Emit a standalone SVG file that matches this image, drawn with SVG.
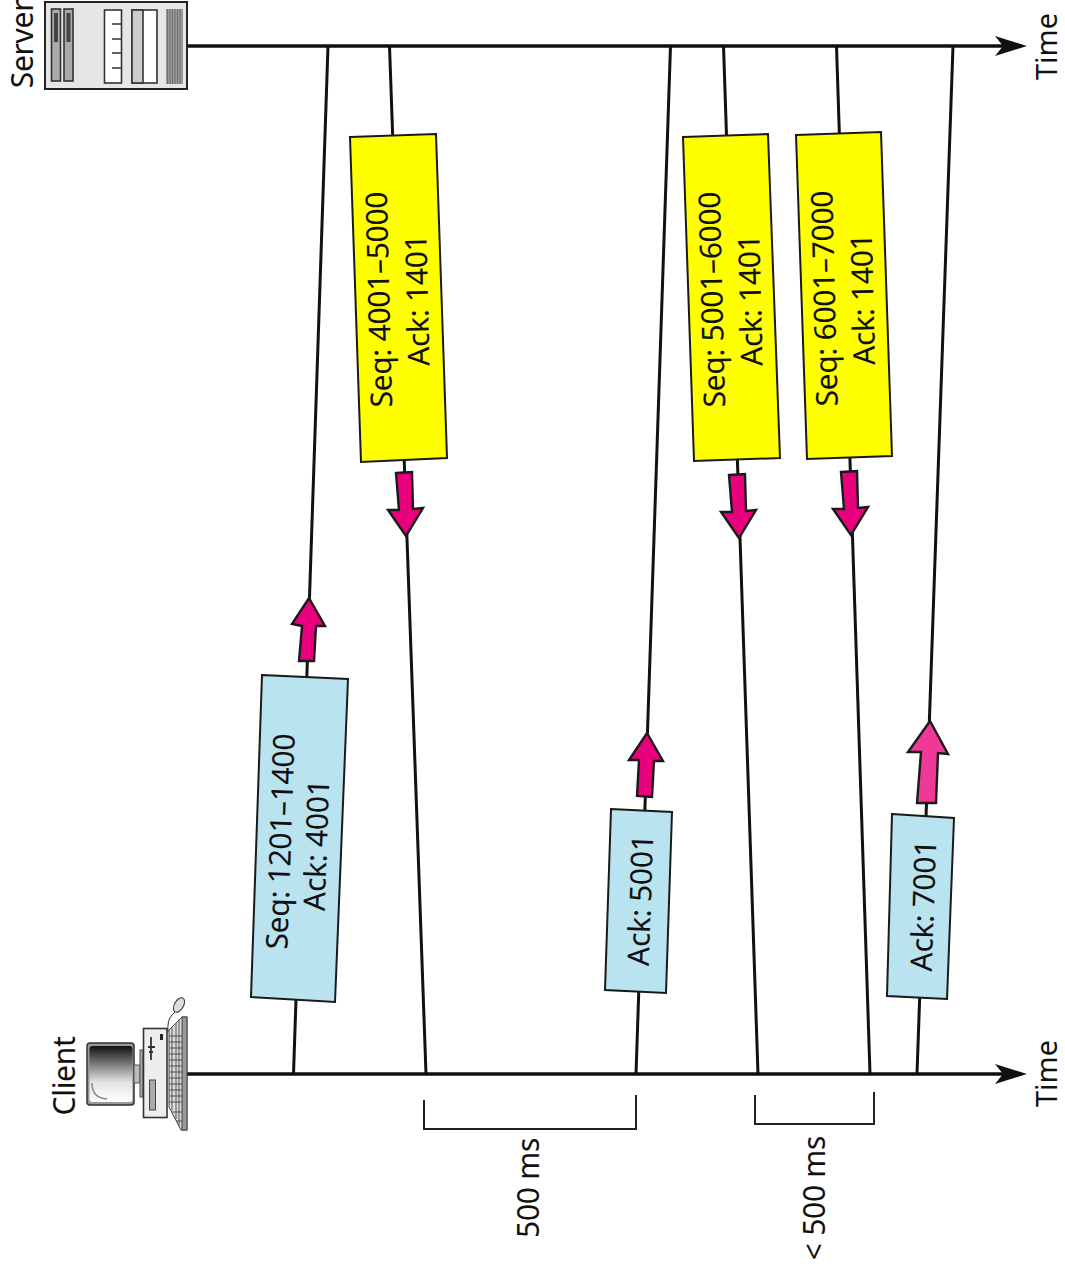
<svg xmlns="http://www.w3.org/2000/svg" width="1065" height="1275" viewBox="0 0 1065 1275">
<style>
text{font-family:"Noto Sans","Open Sans","Liberation Sans",sans-serif;font-size:30px;letter-spacing:-0.3px;fill:#111;text-anchor:middle}
.tm{font-size:29px;letter-spacing:0}
.msg{fill:none;stroke:#111;stroke-width:3}
.axis{fill:none;stroke:#111;stroke-width:3.4}
.tip{fill:#111;stroke:none}
.y{fill:#ffff00;stroke:#1a1a1a;stroke-width:2}
.b{fill:#b9e3ef;stroke:#1a1a1a;stroke-width:2}
.p{fill:#e8007d;stroke:#1a1a1a;stroke-width:2.4;stroke-linejoin:miter}
.pl{fill:#ee3a96;stroke:#1a1a1a;stroke-width:2.4}
.br{fill:none;stroke:#222;stroke-width:2}
.o{stroke:#333;stroke-width:1.6}
.t{fill:none;stroke:#333;stroke-width:1.3}
</style>
<defs>
<linearGradient id="scr" x1="0" y1="0" x2="0" y2="1"><stop offset="0" stop-color="#111"/><stop offset="0.65" stop-color="#e4e4e4"/><stop offset="1" stop-color="#fff"/></linearGradient>
</defs>
<g id="connectors">
<path class="axis" d="M187,46H1005"/>
<polygon class="tip" points="995,36 1027,46 995,56 1003,46"/>
<path class="axis" d="M187,1074H1005"/>
<polygon class="tip" points="995,1064 1027,1074 995,1084 1003,1074"/>
<path class="msg" d="M328,46L293.500,1074"/>
<path class="msg" d="M389.500,46L426,1074"/>
<path class="msg" d="M670.500,46L636,1074"/>
<path class="msg" d="M723.500,46L758,1074"/>
<path class="msg" d="M836.500,46L870,1074"/>
<path class="msg" d="M953,46L917,1074"/>
</g>
<g id="server">
<rect x="45" y="2" width="142" height="87" fill="#e6e6e6" stroke="#222" stroke-width="2"/>
<rect class="o" x="51.500" y="9" width="9" height="72" fill="#aaa"/>
<rect x="54" y="13" width="4" height="29" fill="#444"/>
<rect class="o" x="64" y="9" width="9" height="72" fill="#aaa"/>
<rect x="66.500" y="13" width="4" height="29" fill="#444"/>
<rect class="o" x="104.500" y="10" width="17" height="73" fill="#fff"/>
<path class="t" d="M112,24H121M112,39H121M112,53H121M112,68H121"/>
<rect class="o" x="132" y="10" width="25" height="73" fill="#fff"/>
<rect class="o" x="132" y="10" width="11" height="73" fill="#ccc"/>
<rect x="166" y="9" width="17" height="75" fill="#999"/>
<path d="M167.500,9V84M170,9V84M172.500,9V84M175,9V84M177.500,9V84M180,9V84" stroke="#666" stroke-width="0.8" fill="none"/>
<text transform="translate(33,44) rotate(-90)">Server</text>
</g>
<g id="client">
<rect x="87" y="1043" width="47" height="62" rx="3" fill="#999" stroke="#333" stroke-width="1.500"/>
<rect x="89.500" y="1046" width="43" height="56" rx="3" fill="url(#scr)"/>
<path d="M92,1083Q92,1098 107,1099" fill="none" stroke="#888" stroke-width="1.500"/>
<rect x="134" y="1065" width="6" height="18" fill="#bbb" stroke="#555"/>
<rect x="140" y="1050" width="3" height="47" fill="#aaa" stroke="#555"/>
<rect class="o" x="143.500" y="1028.500" width="23.500" height="89" fill="#eee"/>
<rect x="160" y="1034" width="3" height="6" fill="#222"/>
<path d="M151,1037V1060M148,1047H155M149,1052H153" stroke="#333" stroke-width="1.800" fill="none"/>
<rect x="149.500" y="1080" width="6" height="30" fill="#aaa" stroke="#444"/>
<polygon points="169,1030 182,1017 187,1017 187,1130 181,1130 169,1107" fill="#ddd" stroke="#444"/>
<rect x="182" y="1017" width="5" height="113" fill="#999" stroke="#444"/>
<path d="M169,1036H182M169,1042H182M169,1048H182M169,1054H182M169,1060H182M169,1066H182M169,1072H182M169,1078H182M169,1084H182M169,1090H182M169,1096H182M169,1102H182M172,1112H182M176,1121H182M172,1027V1110M176,1023V1119M179,1020V1126" stroke="#444" stroke-width="0.9" fill="none"/>
<path d="M168,1032Q167,1020 172,1015T177,1010" fill="none" stroke="#333"/>
<ellipse cx="179" cy="1005" rx="8" ry="4.500" transform="rotate(-60 179 1005)" fill="#ddd" stroke="#333"/>
<text transform="translate(75,1076) rotate(-90)">Client</text>
</g>
<g id="msg1">
<polygon class="b" points="262,675 348,679 335,1002 251,997"/>
<polygon class="p" points="309,598 325,626 316,626 314,661 299,661 302,626 292,624"/>
<text transform="translate(291,842) rotate(-88)">Seq: 1201–1400</text>
<text transform="translate(327,845.500) rotate(-88)">Ack: 4001</text>
</g>
<g id="msg2">
<polygon class="y" points="350,137 436,134 447,458 361,462"/>
<polygon class="p" points="396,473 412,472 413,509 423,508 406,536 388,510 399,510"/>
<text transform="translate(389.500,299.500) rotate(-91.400)">Seq: 4001–5000</text>
<text transform="translate(428,300) rotate(-91.400)">Ack: 1401</text>
</g>
<g id="msg3">
<polygon class="b" points="611,809 672,812 666,993 605,990"/>
<polygon class="p" points="647,733 663,761 654,761 652,797 637,796 639,760 629,760"/>
<text transform="translate(651,900.500) rotate(-88)">Ack: 5001</text>
</g>
<g id="msg4">
<polygon class="y" points="683,137 768,134 780,458 694,461"/>
<polygon class="p" points="729,475 745,474 746,511 756,510 739,538 721,512 732,512"/>
<text transform="translate(722.500,299.500) rotate(-91.400)">Seq: 5001–6000</text>
<text transform="translate(761,300) rotate(-91.400)">Ack: 1401</text>
</g>
<g id="msg5">
<polygon class="y" points="796,135 881,132 892,456 807,459"/>
<polygon class="p" points="841,472 857,471 858,508 868,507 851,535 833,509 844,509"/>
<text transform="translate(835,298.500) rotate(-91.400)">Seq: 6001–7000</text>
<text transform="translate(873.500,299) rotate(-91.400)">Ack: 1401</text>
</g>
<g id="msg6">
<polygon class="b" points="892,814 954,818 947,999 887,996"/>
<polygon class="pl" points="930,721 948,754 938,753 936,803 917,803 921,752 908,752"/>
<text transform="translate(934,906) rotate(-88)">Ack: 7001</text>
</g>
<g id="time-server"><text class="tm" transform="translate(1056.500,46.500) rotate(-90)">Time</text></g>
<g id="time-client"><text class="tm" transform="translate(1056.500,1073.500) rotate(-90)">Time</text></g>
<g id="interval-500">
<path class="br" d="M424,1100V1129H636V1095"/>
<text transform="translate(539,1188) rotate(-90)">500 ms</text>
</g>
<g id="interval-lt500">
<path class="br" d="M755,1095V1124H874V1092"/>
<text transform="translate(825,1198) rotate(-90)">&lt; 500 ms</text>
</g>
</svg>
